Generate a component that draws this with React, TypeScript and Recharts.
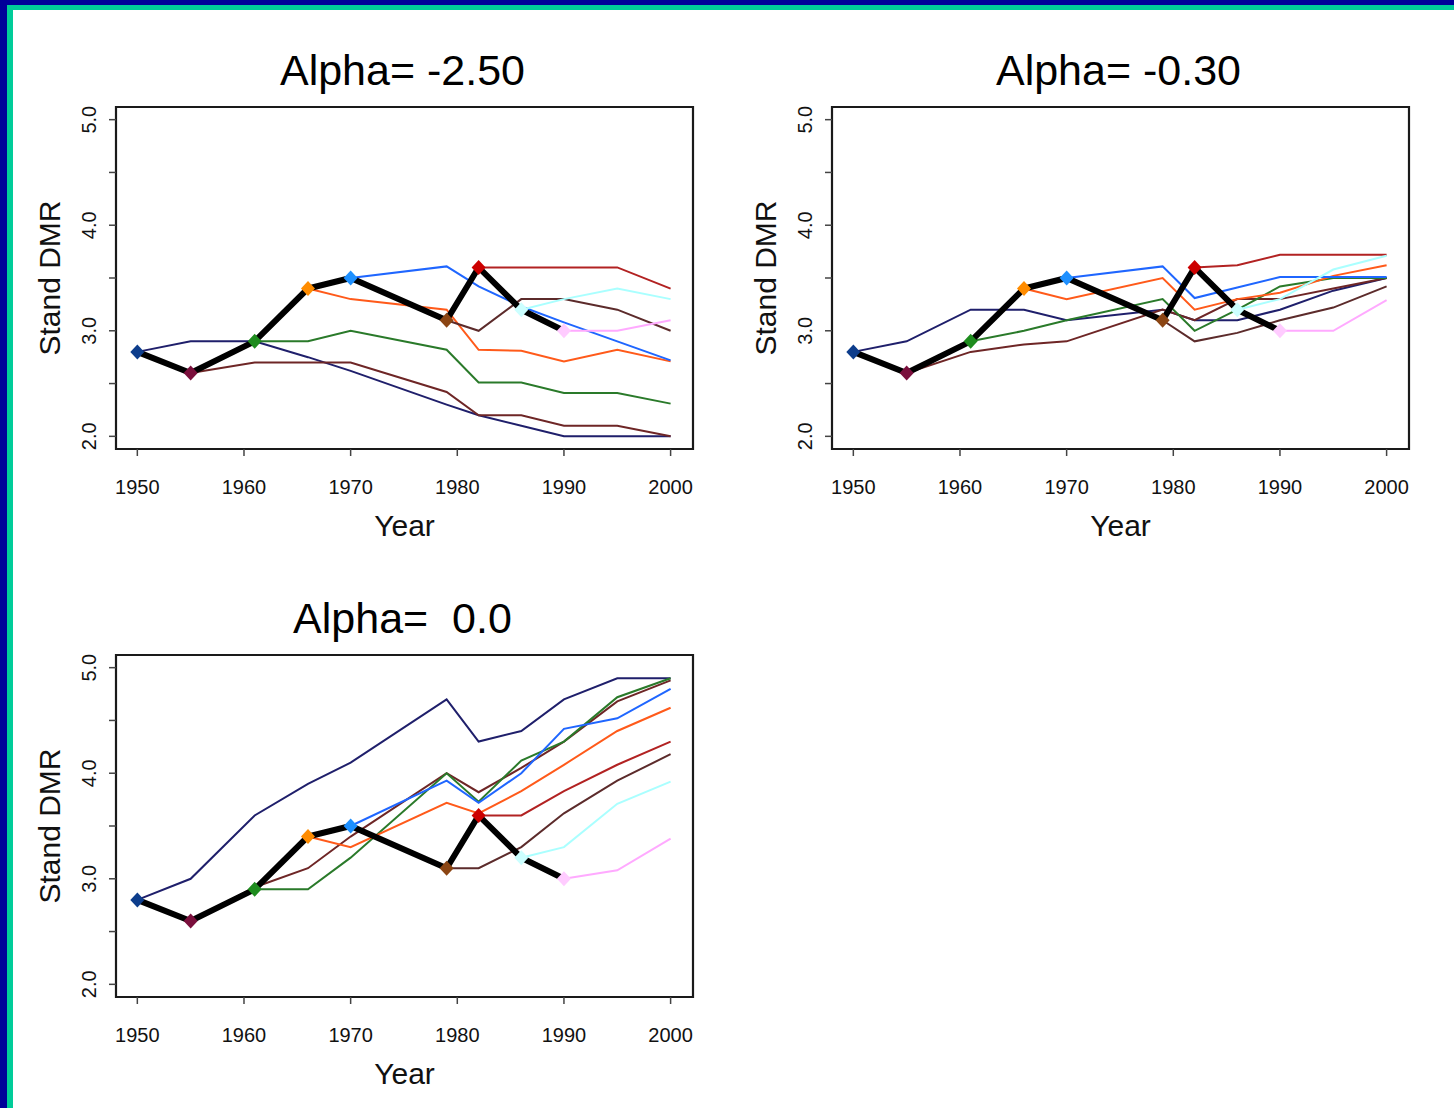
import React from 'react';
import { LineChart, Line, XAxis, YAxis, ReferenceArea, Label } from 'recharts';

// ---------- data ----------
const years = [1950, 1955, 1961, 1966, 1970, 1979, 1982, 1986, 1990, 1995, 2000];
const observed = [2.8, 2.6, 2.9, 3.4, 3.5, 3.1, 3.6, 3.2, 3.0];
const xTicks = [1950, 1960, 1970, 1980, 1990, 2000];
const yTicks = [2, 2.5, 3, 3.5, 4, 4.5, 5];
const titles = ['Alpha= -2.50', 'Alpha= -0.30', 'Alpha=  0.0'];
const xAxisTitle = 'Year';
const yAxisTitle = 'Stand DMR';

// projections, one per start year (series k starts at years[k])
const alphaMinus250 = [
  [2.8, 2.9, 2.9, 2.75, 2.62, 2.3, 2.2, 2.1, 2.0, 2.0, 2.0],
  [2.6, 2.7, 2.7, 2.7, 2.42, 2.2, 2.2, 2.1, 2.1, 2.0],
  [2.9, 2.9, 3.0, 2.82, 2.51, 2.51, 2.41, 2.41, 2.31],
  [3.4, 3.3, 3.2, 2.82, 2.81, 2.71, 2.82, 2.71],
  [3.5, 3.61, 3.42, 3.23, 3.08, 2.9, 2.72],
  [3.1, 3.0, 3.3, 3.3, 3.2, 3.0],
  [3.6, 3.6, 3.6, 3.6, 3.4],
  [3.2, 3.3, 3.4, 3.3],
  [3.0, 3.0, 3.1],
];
const alphaMinus030 = [
  [2.8, 2.9, 3.2, 3.2, 3.1, 3.2, 3.1, 3.1, 3.2, 3.38, 3.5],
  [2.6, 2.8, 2.87, 2.9, 3.2, 3.1, 3.3, 3.3, 3.4, 3.5],
  [2.9, 3.0, 3.1, 3.3, 3.0, 3.2, 3.42, 3.5, 3.5],
  [3.4, 3.3, 3.5, 3.2, 3.3, 3.36, 3.52, 3.62],
  [3.5, 3.61, 3.31, 3.41, 3.51, 3.51, 3.51],
  [3.1, 2.9, 2.98, 3.1, 3.22, 3.42],
  [3.6, 3.62, 3.72, 3.72, 3.72],
  [3.2, 3.3, 3.58, 3.71],
  [3.0, 3.0, 3.29],
];
const alphaZero = [
  [2.8, 3.0, 3.6, 3.9, 4.1, 4.7, 4.3, 4.4, 4.7, 4.9, 4.9],
  [2.6, 2.92, 3.1, 3.4, 4.0, 3.82, 4.05, 4.3, 4.68, 4.88],
  [2.9, 2.9, 3.2, 4.0, 3.73, 4.12, 4.3, 4.72, 4.9],
  [3.4, 3.3, 3.72, 3.62, 3.83, 4.08, 4.4, 4.62],
  [3.5, 3.93, 3.72, 4.0, 4.42, 4.52, 4.8],
  [3.1, 3.1, 3.3, 3.62, 3.93, 4.18],
  [3.6, 3.6, 3.83, 4.08, 4.3],
  [3.2, 3.3, 3.71, 3.92],
  [3.0, 3.08, 3.38],
];

const lineColors = ['#1f1f6b', '#6e2626', '#2a7a2a', '#ff5a1a', '#1f66ff', '#5c2b2b', '#b22222', '#aaffff', '#ffaaff'];
const markerColors = ['#0d3d8c', '#7a0f3c', '#1e8c1e', '#ff8c00', '#1e90ff', '#8b4513', '#cc0000', '#ccffff', '#ffccff'];

// ---------- layout ----------
const FONT = '"Liberation Sans", Arial, sans-serif';
const W = 720;
const H = 560;
const PLOT_L = 116;
const PLOT_T = 107;
const PLOT_W = 577;
const PLOT_H = 342;
const Y_AXIS_W = 60;
const X_AXIS_H = 60;
const margin = {
  top: PLOT_T,
  left: PLOT_L - Y_AXIS_W,
  right: W - PLOT_L - PLOT_W,
  bottom: H - PLOT_T - PLOT_H - X_AXIS_H,
};

function buildRows(series: number[][]) {
  return years.map((year, i) => {
    const row: Record<string, number | undefined> = { year };
    if (i < observed.length) row.obs = observed[i];
    series.forEach((vals, k) => {
      if (i >= k) row['s' + k] = vals[i - k];
    });
    return row;
  });
}

const XTick = (props: any) => {
  const { x, y, payload } = props;
  return (
    <text x={x} y={y + 38} textAnchor="middle" fontSize={20} fontFamily={FONT} fill="#111">
      {payload.value}
    </text>
  );
};

const YTick = (props: any) => {
  const { x, y, payload } = props;
  const v = payload.value as number;
  if (Math.abs(v - Math.round(v)) > 1e-6) return <g />;
  const bx = x - 13;
  return (
    <text
      x={bx}
      y={y}
      transform={`rotate(-90, ${bx}, ${y})`}
      textAnchor="middle"
      fontSize={20}
      fontFamily={FONT}
      fill="#111"
    >
      {v.toFixed(1)}
    </text>
  );
};

const renderDiamond = (props: any) => {
  const { cx, cy, index } = props;
  if (cx == null || cy == null || Number.isNaN(cy)) return <g key={`m${index}`} />;
  const r = 7;
  return (
    <path
      key={`m${index}`}
      d={`M${cx},${cy - r - 0.5} L${cx + r},${cy} L${cx},${cy + r + 0.5} L${cx - r},${cy} Z`}
      fill={markerColors[index]}
    />
  );
};

function Panel({ title, series, left, top }: { title: string; series: number[][]; left: number; top: number }) {
  const rows = buildRows(series);
  const cx = PLOT_L + PLOT_W / 2;
  return (
    <div style={{ position: 'absolute', left, top, width: W, height: H }}>
      <LineChart width={W} height={H} data={rows} margin={margin}>
        <XAxis
          dataKey="year"
          type="number"
          domain={[1948, 2002.1]}
          allowDataOverflow
          ticks={xTicks}
          interval={0}
          height={X_AXIS_H}
          axisLine={false}
          tickSize={7}
          tickMargin={0}
          tickLine={{ stroke: '#444', strokeWidth: 1.5 }}
          tick={XTick}
        >
          <Label
            content={() => (
              <text x={cx} y={PLOT_T + PLOT_H + 87} textAnchor="middle" fontSize={30} fontFamily={FONT} fill="#111">
                {xAxisTitle}
              </text>
            )}
          />
        </XAxis>
        <YAxis
          type="number"
          domain={[1.88, 5.12]}
          allowDataOverflow
          ticks={yTicks}
          interval={0}
          width={Y_AXIS_W}
          axisLine={false}
          tickSize={7}
          tickMargin={0}
          tickLine={{ stroke: '#444', strokeWidth: 1.5 }}
          tick={YTick}
        >
          <Label
            content={() => {
              const lx = 60;
              const ly = PLOT_T + PLOT_H / 2;
              return (
                <text
                  x={lx}
                  y={ly}
                  transform={`rotate(-90, ${lx}, ${ly})`}
                  textAnchor="middle"
                  fontSize={30}
                  fontFamily={FONT}
                  fill="#111"
                >
                  {yAxisTitle}
                </text>
              );
            }}
          />
          <Label
            content={() => (
              <text
                x={cx - 2}
                y={PLOT_T - 22}
                textAnchor="middle"
                fontSize={43}
                fontFamily={FONT}
                fill="#000"
                style={{ whiteSpace: 'pre' }}
              >
                {title}
              </text>
            )}
          />
        </YAxis>
        <ReferenceArea x1={1948} x2={2002.1} y1={1.88} y2={5.12} fill="none" stroke="#1a1a1a" strokeWidth={2.2} />
        {series.map((_, k) => (
          <Line
            key={'s' + k}
            dataKey={'s' + k}
            type="linear"
            stroke={lineColors[k]}
            strokeWidth={2}
            dot={false}
            activeDot={false}
            isAnimationActive={false}
          />
        ))}
        <Line
          dataKey="obs"
          type="linear"
          stroke="#000"
          strokeWidth={6}
          dot={renderDiamond}
          activeDot={false}
          isAnimationActive={false}
        />
      </LineChart>
    </div>
  );
}

export default function App() {
  return (
    <div style={{ position: 'absolute', left: 0, top: 0, width: 1454, height: 1108, background: '#000099', overflow: 'hidden' }}>
      <div style={{ position: 'absolute', left: 7, top: 5, right: 0, bottom: 0, background: '#00cc99' }} />
      <div style={{ position: 'absolute', left: 13, top: 10, right: 0, bottom: 0, background: '#ffffff' }} />
      <Panel title={titles[0]} series={alphaMinus250} left={0} top={0} />
      <Panel title={titles[1]} series={alphaMinus030} left={716} top={0} />
      <Panel title={titles[2]} series={alphaZero} left={0} top={548} />
    </div>
  );
}
